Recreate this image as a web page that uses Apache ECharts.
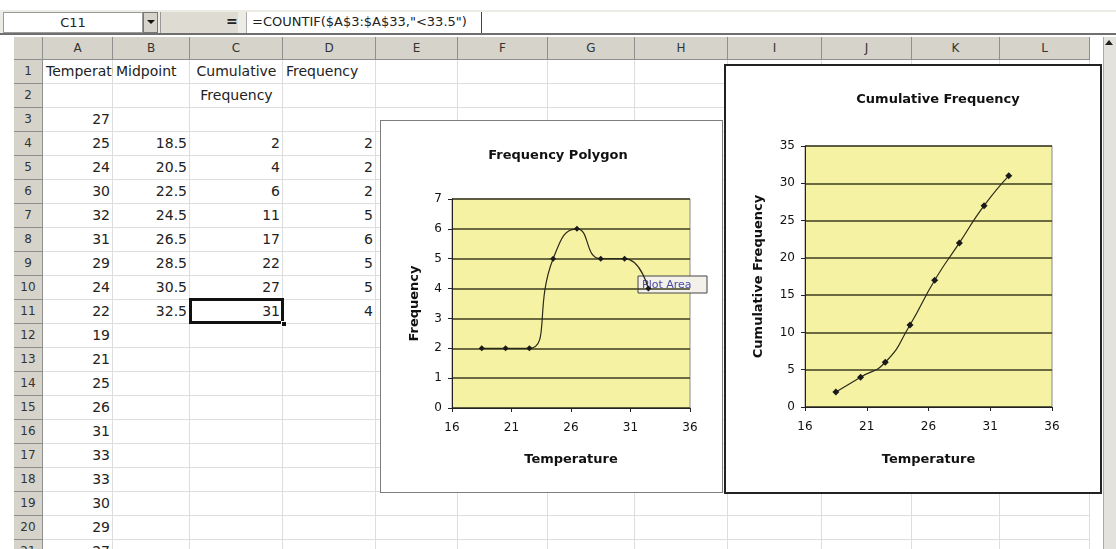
<!DOCTYPE html>
<html>
<head>
<meta charset="utf-8">
<script src="https://cdn.jsdelivr.net/npm/echarts@6/dist/echarts.min.js"></script>
<style>
  body { margin: 0; width: 1116px; height: 549px; overflow: hidden; background: #fff; position: relative; font-family: "DejaVu Sans", sans-serif; }
  .abs { position: absolute; box-sizing: border-box; }
  .cell { border-right: 1px solid #dedede; border-bottom: 1px solid #dedede; font-size: 14px; line-height: 23px; color: #222; white-space: nowrap; overflow: hidden; padding: 0 3px; }
  .hdr { background: #d6d3cb; border-right: 1px solid #8f8f8f; border-bottom: 1px solid #8f8f8f; font-size: 12px; color: #333; text-align: center; line-height: 22px; }
  .chartbox { position: absolute; box-sizing: border-box; background: #fff; }
</style>
</head>
<body>
<div id="sheet"></div>
<div id="freqChart" class="chartbox" style="left:380px;top:120px;width:343px;height:373px;border:1px solid #7d7d7d;"></div>
<div id="cumChart" class="chartbox" style="left:724px;top:64px;width:378px;height:430px;border:2px solid #222;"></div>
<script>
// ---- sheet contents ----
const columnLetters = ['A', 'B', 'C', 'D', 'E', 'F', 'G', 'H', 'I', 'J', 'K', 'L'];
const row1Labels = ['Temperature', 'Midpoint', 'Cumulative', 'Frequency'];
const row2Label = 'Frequency';
const temperatures = [27, 25, 24, 30, 32, 31, 29, 24, 22, 19, 21, 25, 26, 31, 33, 33, 30, 29, 27]; // A3:A21
const midpoints = [18.5, 20.5, 22.5, 24.5, 26.5, 28.5, 30.5, 32.5];                              // B4:B11
const cumulative = [2, 4, 6, 11, 17, 22, 27, 31];                                                 // C4:C11
const frequency = [2, 2, 2, 5, 6, 5, 5, 4];                                                       // D4:D11
const nameBoxText = 'C11';
const formulaText = '=COUNTIF($A$3:$A$33,"<33.5")';

// sheet geometry
const COL_X = [43, 113, 190, 283, 376, 458, 548, 635, 728, 822, 912, 1000, 1090];
const ROW_TOP = 60, ROW_H = 24, N_ROWS = 21;

const sheet = document.getElementById('sheet');
function box(x, y, w, h, cls, css, text) {
    const d = document.createElement('div');
    d.className = 'abs ' + (cls || '');
    d.style.cssText = `left:${x}px;top:${y}px;width:${w}px;height:${h}px;` + (css || '');
    if (text != null) d.textContent = text;
    sheet.appendChild(d);
    return d;
}

// formula bar
box(0, 10, 1116, 25, '', 'background:#ecebe5;border-bottom:2px solid #6f6f6f;');
box(3, 12, 140, 21, '', 'background:#fff;border:1px solid #9a9a9a;font-size:13px;line-height:19px;text-align:center;color:#222;', nameBoxText);
box(143, 12, 15, 21, '', 'background:#d6d3cb;border:1px solid #777;');
box(147, 20, 0, 0, '', 'border-left:4px solid transparent;border-right:4px solid transparent;border-top:4px solid #111;');
box(160, 12, 78, 21, '', 'background:#dedbd3;border-left:1px solid #999;');
box(226, 12, 14, 21, '', 'font-size:14px;line-height:19px;color:#222;font-weight:bold;', '=');
box(246, 12, 870, 21, '', 'background:#fff;border-left:1px solid #aaa;');
box(252, 12, 230, 21, '', 'font-size:13px;line-height:20px;color:#222;white-space:nowrap;border-right:1px solid #444;', formulaText);

// column headers
box(14, 37, 29, 23, 'hdr', '');
columnLetters.forEach((c, i) => {
    box(COL_X[i], 37, COL_X[i + 1] - COL_X[i], 23, 'hdr', '', c);
});

// rows
for (let r = 1; r <= N_ROWS; r++) {
    const y = ROW_TOP + ROW_H * (r - 1);
    box(14, y, 29, ROW_H, 'hdr', 'line-height:23px;', String(r));
    for (let c = 0; c < columnLetters.length; c++) {
        box(COL_X[c], y, COL_X[c + 1] - COL_X[c], ROW_H, 'cell', '');
    }
}

function cellText(col, row, text, align) {
    const y = ROW_TOP + ROW_H * (row - 1);
    box(COL_X[col], y, COL_X[col + 1] - COL_X[col], ROW_H, 'cell', 'border:none;text-align:' + align + ';', text);
}
cellText(0, 1, row1Labels[0], 'left');
cellText(1, 1, row1Labels[1], 'left');
cellText(2, 1, row1Labels[2], 'center');
cellText(3, 1, row1Labels[3], 'left');
cellText(2, 2, row2Label, 'center');
temperatures.forEach((t, i) => cellText(0, 3 + i, String(t), 'right'));
midpoints.forEach((m, i) => cellText(1, 4 + i, String(m), 'right'));
cumulative.forEach((v, i) => cellText(2, 4 + i, String(v), 'right'));
frequency.forEach((v, i) => cellText(3, 4 + i, String(v), 'right'));

// active cell C11
box(189, 298, 95, 26, '', 'border:3px solid #111;');
box(281, 321, 6, 6, '', 'background:#111;border:1px solid #fff;');

// vertical scroll bar strip
box(1103, 37, 13, 512, '', 'background:#e4e2dc;border-left:1px solid #aaa;');
box(1105, 40, 0, 0, '', 'border-left:4px solid transparent;border-right:4px solid transparent;border-bottom:5px solid #222;');

// ---- charts ----
const labelStyle = { color: '#111', fontSize: 12, fontFamily: 'DejaVu Sans' };
const nameStyle = { color: '#111', fontSize: 13, fontWeight: 'bold', fontFamily: 'DejaVu Sans' };

function buildOption(o) {
    return {
        animation: false,
        textStyle: { fontFamily: 'DejaVu Sans' },
        title: {
            text: o.title, left: o.titleX, top: o.titleTop, textAlign: 'center',
            textStyle: { fontSize: 13, fontWeight: 'bold', color: '#111', fontFamily: 'DejaVu Sans' },
        },
        grid: {
            left: o.grid[0], top: o.grid[1], width: o.grid[2], height: o.grid[3],
            show: true, backgroundColor: '#F6F2A4', borderColor: '#8a8a8a', borderWidth: 1,
            outerBoundsMode: 'none',
        },
        xAxis: {
            type: 'value', min: 16, max: 36, interval: 5,
            name: 'Temperature', nameLocation: 'middle', nameGap: o.xGap, nameTextStyle: nameStyle,
            axisLine: { show: true, onZero: false, lineStyle: { color: '#222' } },
            axisTick: { show: true, length: 4, lineStyle: { color: '#222' } },
            axisLabel: Object.assign({ margin: 14 }, labelStyle),
            splitLine: { show: false },
        },
        yAxis: {
            type: 'value', min: 0, max: o.yMax, interval: o.yStep,
            name: o.yName, nameLocation: 'middle', nameGap: o.yGap, nameTextStyle: nameStyle,
            axisLine: { show: true, lineStyle: { color: '#222' } },
            axisTick: { show: true, length: 4, lineStyle: { color: '#222' } },
            axisLabel: Object.assign({ margin: 10 }, labelStyle),
            splitLine: { show: true, lineStyle: { color: '#3d3b1e', width: 1.5 } },
        },
        series: [{
            type: 'line',
            data: o.data,
            smooth: 0.55,
            symbol: 'diamond',
            symbolSize: o.symbolSize,
            itemStyle: { color: '#1a1a1a' },
            lineStyle: { color: '#2a2a1a', width: 1.2 },
        }],
        graphic: o.graphic || [],
    };
}

const freqChart = echarts.init(document.getElementById('freqChart'), null, { renderer: 'canvas' });
freqChart.setOption(buildOption({
    title: 'Frequency Polygon', titleX: 172, titleTop: 23,
    grid: [71, 78, 238, 209],
    xGap: 45, yGap: 31,
    yMax: 7, yStep: 1, yName: 'Frequency',
    symbolSize: 6,
    data: midpoints.map((m, i) => [m, frequency[i]]),
    // the "Plot Area" hover tip caught in the screenshot
    graphic: [{
        type: 'group', z: 100,
        children: [
            { type: 'rect', shape: { x: 257, y: 155, width: 69, height: 17 }, style: { fill: '#f3f1ea', stroke: '#444', lineWidth: 1 } },
            { type: 'text', style: { x: 261, y: 164, text: 'Plot Area', fill: '#4b4ba8', font: '11px "DejaVu Sans"', verticalAlign: 'middle' } },
        ],
    }],
}));

const cumChart = echarts.init(document.getElementById('cumChart'), null, { renderer: 'canvas' });
cumChart.setOption(buildOption({
    title: 'Cumulative Frequency', titleX: 207, titleTop: 22,
    grid: [79, 80, 247, 261],
    xGap: 46, yGap: 40,
    yMax: 35, yStep: 5, yName: 'Cumulative Frequency',
    symbolSize: 7,
    data: midpoints.map((m, i) => [m, cumulative[i]]),
}));
</script>
</body>
</html>
